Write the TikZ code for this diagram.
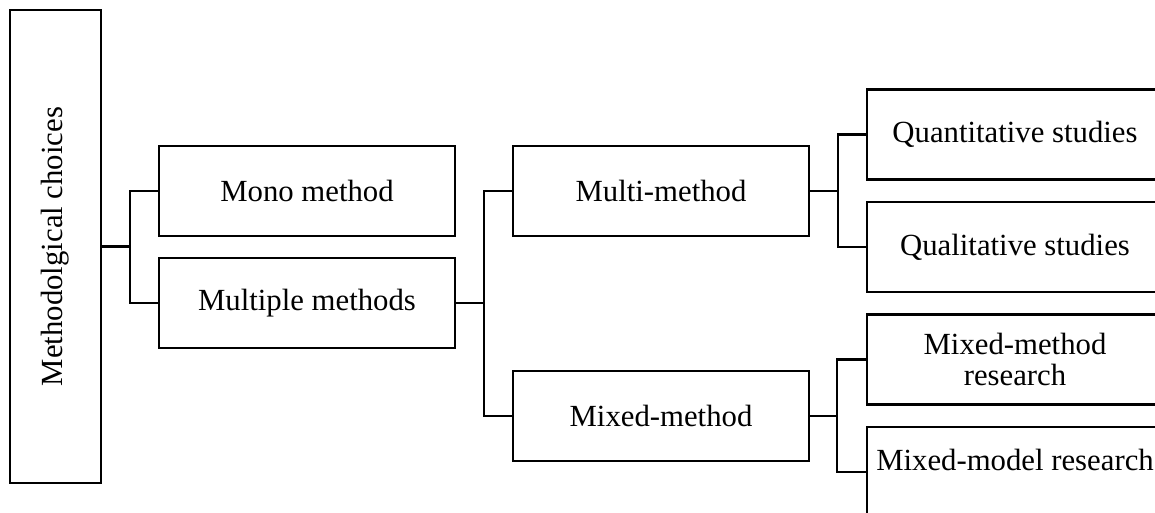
\documentclass[tikz,border=0pt]{standalone}
\usepackage{fontspec}
\setmainfont{Liberation Serif}

\tikzset{
    choice/.style={draw, line width=0.055cm, inner sep=0pt, minimum width=5.92cm, minimum height=1.8cm,
        align=center, font=\fontsize{17.5}{17.5}\selectfont},
    link/.style={line width=0.055cm, line join=miter}
}

\begin{document}
\begin{tikzpicture}[x=0.02cm, y=-0.02cm]
    \useasboundingbox (0, 0) rectangle (1155, 513);
    \clip (0, 0) rectangle (1155, 513);

    % 根节点
    \node[choice, minimum width=1.82cm, minimum height=9.46cm] (root) at (55.5, 246.5)
        {\rotatebox{90}{Methodolgical choices}};

    % 第一层
    \node[choice] (mono) at (307, 191) {Mono method};
    \node[choice] (multiple) at (307, 303) {Multiple methods};

    % 第二层
    \node[choice] (multi) at (661, 191) {Multi-method};
    \node[choice] (mixed) at (661, 416) {Mixed-method};

    % 第三层
    \node[choice] (quant) at (1015, 134.5) {Quantitative studies};
    \node[choice] (qual) at (1015, 247) {Qualitative studies};
    \node[choice] (mmres) at (1015, 359.5) {Mixed-method\\research};
    \node[choice, text depth=0.48cm] (mmodel) at (1015, 472) {Mixed-model research};

    % 连线
    \coordinate (j1) at (130, 246.5);
    \coordinate (j2) at (484, 303);
    \coordinate (j3) at (838, 191);
    \coordinate (j4) at (837, 416);

    \draw[link] (root.east) -- (j1);
    \draw[link] (mono.west) -| (j1) |- (multiple.west);

    \draw[link] (multiple.east) -- (j2);
    \draw[link] (multi.west) -| (j2) |- (mixed.west);

    \draw[link] (multi.east) -- (j3);
    \draw[link] (quant.west) -| (j3) |- (qual.west);

    \draw[link] (mixed.east) -- (j4);
    \draw[link] (mmres.west) -| (j4) |- (mmodel.west);
\end{tikzpicture}
\end{document}
